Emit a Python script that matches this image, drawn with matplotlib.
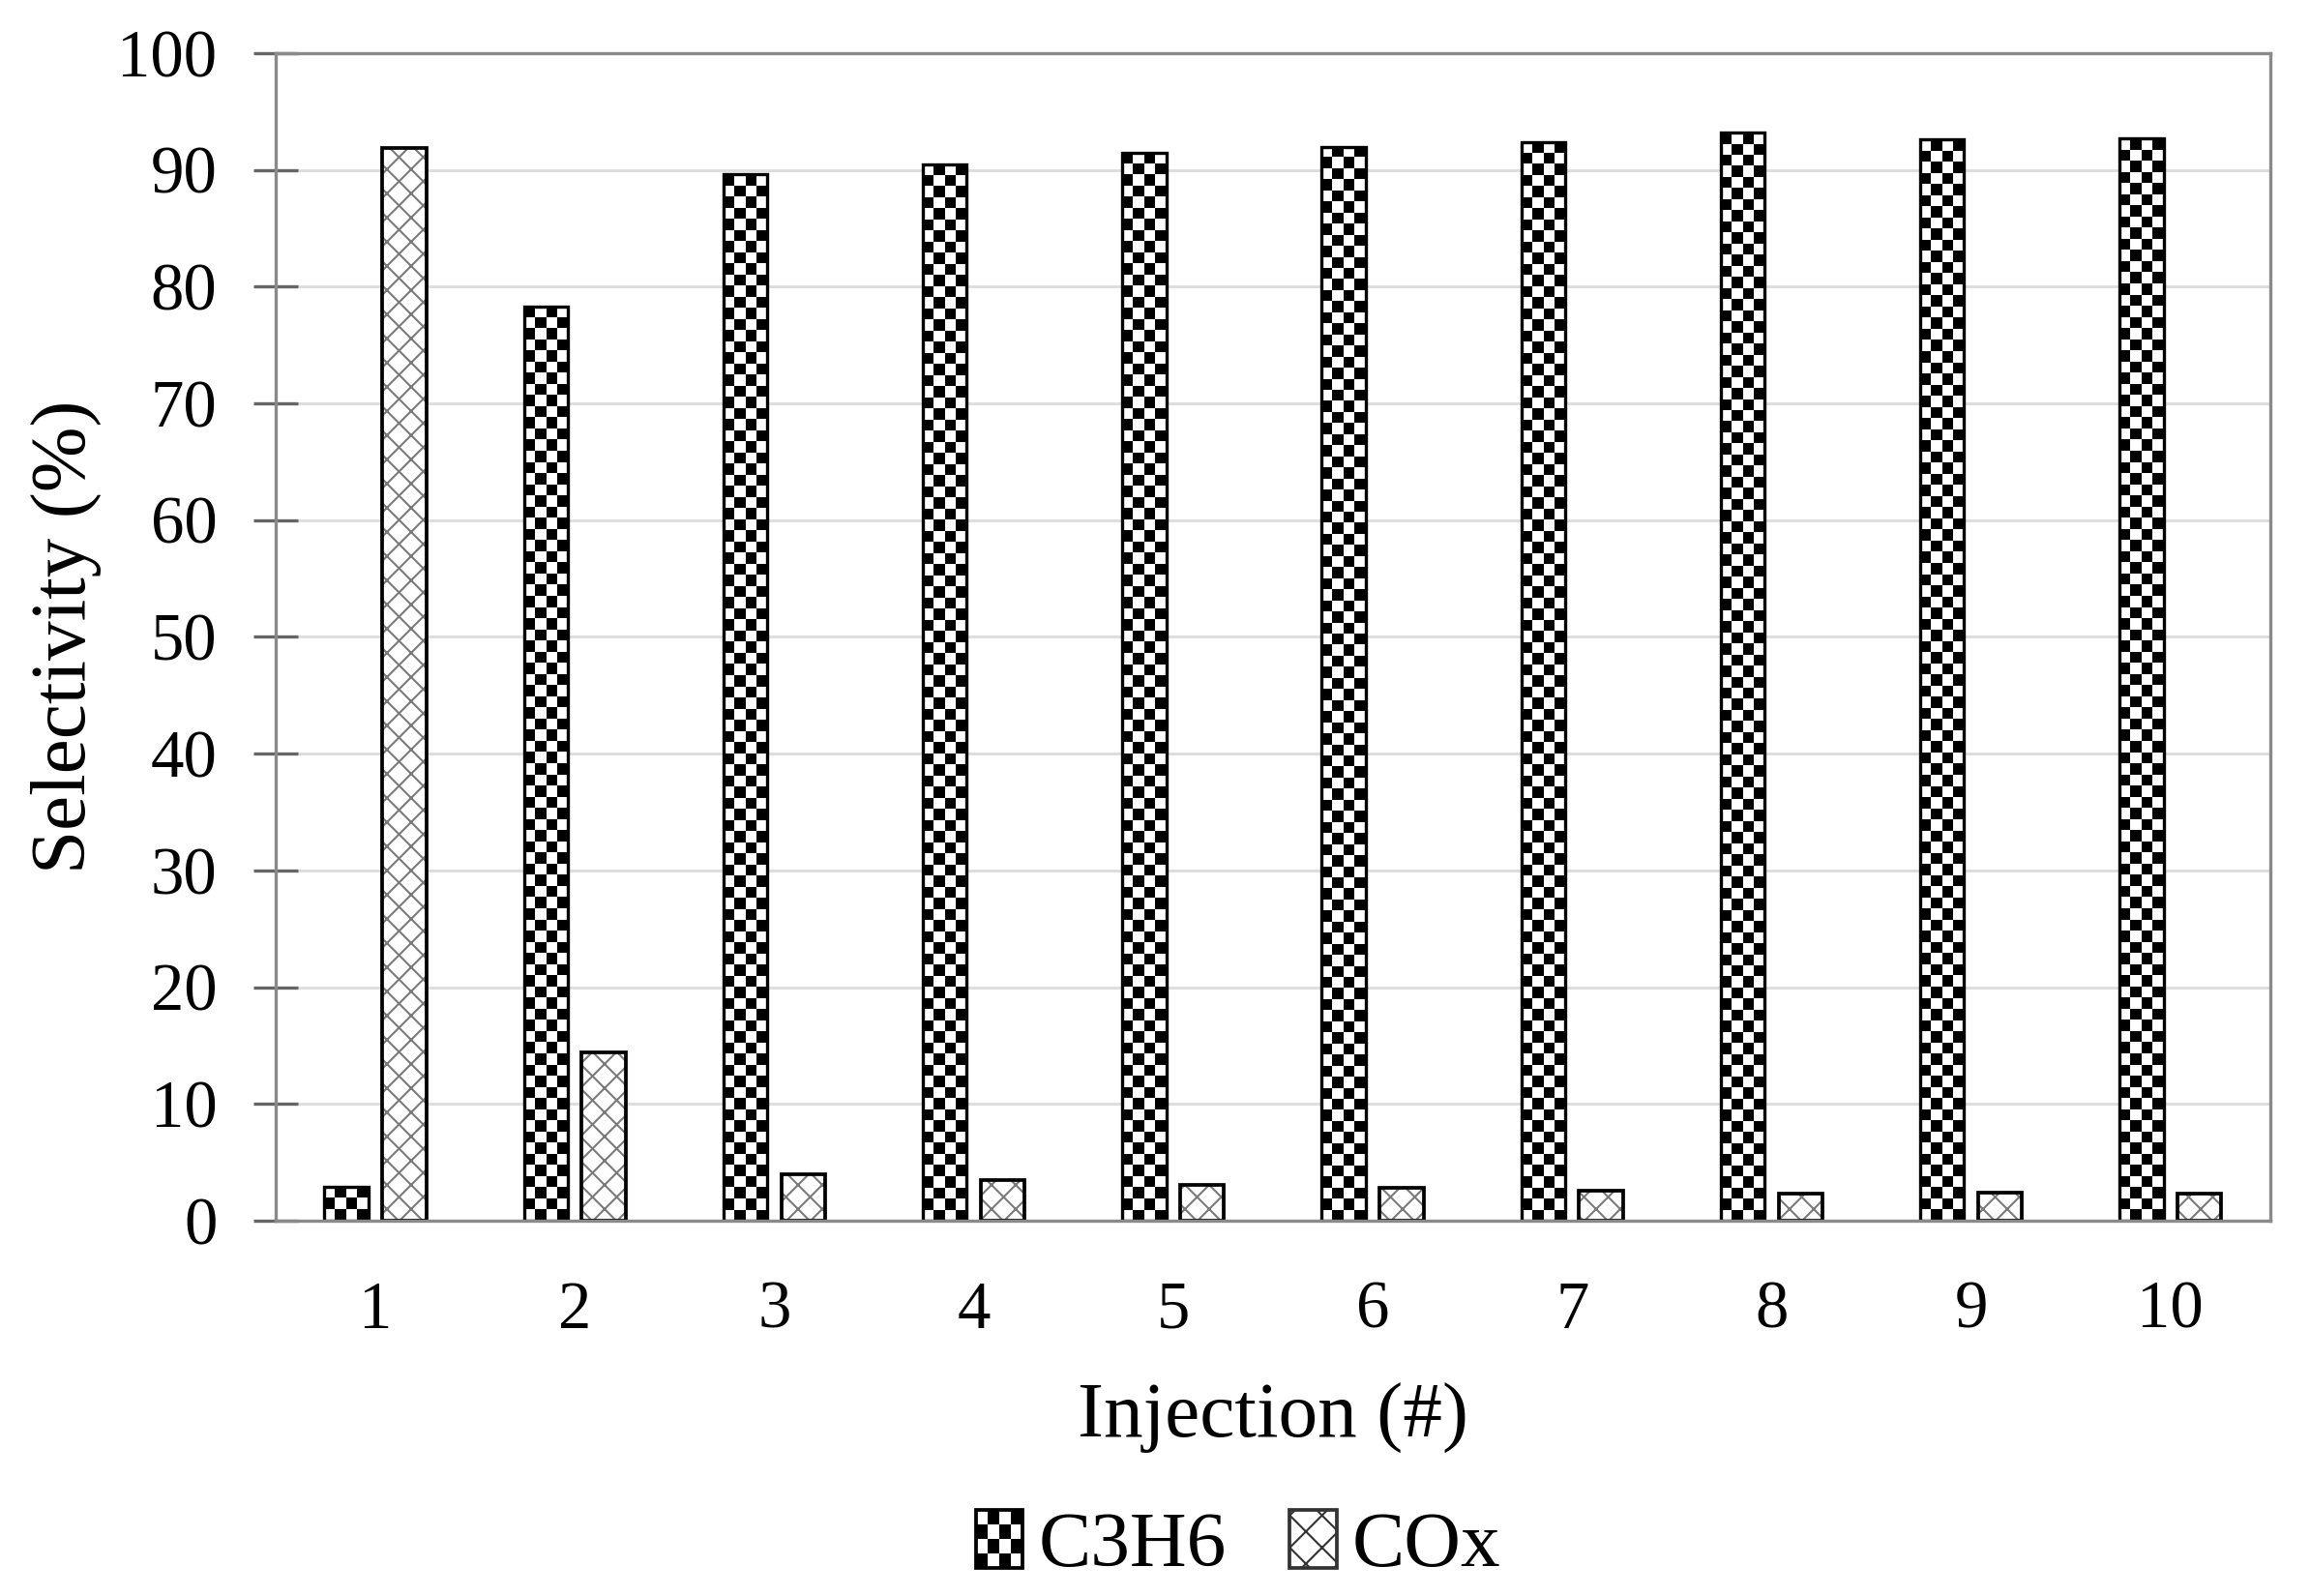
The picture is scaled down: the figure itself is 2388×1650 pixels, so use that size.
import numpy as np
import matplotlib
matplotlib.use("Agg")
import matplotlib.pyplot as plt
from matplotlib.patches import Rectangle, Patch
from matplotlib.legend_handler import HandlerBase

# data
injections = [1, 2, 3, 4, 5, 6, 7, 8, 9, 10]
c3h6 = [2.9, 78.3, 89.6, 90.5, 91.5, 92.0, 92.4, 93.2, 92.6, 92.7]
cox = [91.9, 14.4, 4.0, 3.5, 3.1, 2.8, 2.6, 2.3, 2.4, 2.3]

plt.rcParams['font.family'] = ['Liberation Serif', 'DejaVu Serif']
plt.rcParams['hatch.linewidth'] = 0.5

fig = plt.figure(figsize=(7.96, 5.5), dpi=300)
ax = fig.add_axes([0.1193, 0.2352, 0.8635, 0.7315])

x = np.array(injections, dtype=float)
w = 0.22
off = 0.145
cell_px = 11.5  # size of checker squares in pixels

# C3H6 bars: white with checker pattern clipped inside
bars1 = ax.bar(x - off, c3h6, w, facecolor='white', edgecolor='none', zorder=2)
px_per_y = 1207 / 100.0
for b in bars1:
    nrow = max(1, int(round(b.get_height() * px_per_y / cell_px)))
    ncol = 4
    chk = (np.indices((nrow, ncol)).sum(axis=0) % 2).astype(float)
    im = ax.imshow(chk, cmap='gray_r', vmin=0, vmax=1, interpolation='nearest',
                   aspect='auto', origin='lower', zorder=2.1,
                   extent=(b.get_x(), b.get_x() + b.get_width(), 0, b.get_height()))
    im.set_clip_path(b)
ax.bar(x - off, c3h6, w, facecolor='none', edgecolor='black', lw=0.8, zorder=2.2)

# COx bars: gray cross hatch, black edge
ax.bar(x + off, cox, w, facecolor='white', edgecolor='#7a7a7a', hatch='xxxx', lw=0, zorder=2)
ax.bar(x + off, cox, w, facecolor='none', edgecolor='black', lw=0.9, zorder=2.2)

ax.set_xlim(0.5, 10.5)
ax.set_ylim(0, 100)
ax.set_yticks(np.arange(0, 101, 10))
ax.set_xticks(x)
ax.set_xticklabels([str(i) for i in injections])

ax.set_axisbelow(True)
ax.yaxis.grid(True, color='#dddddd', lw=0.7)
for s in ax.spines.values():
    s.set_color('#8a8a8a')
    s.set_linewidth(0.8)

ax.tick_params(axis='y', direction='inout', length=11, width=0.8, color='#666666',
               labelsize=16.5, pad=9)
ax.tick_params(axis='x', length=0, labelsize=16.5, pad=15)

ax.set_ylabel('Selectivity (%)', fontsize=19.5, labelpad=4)
ax.set_xlabel('Injection (#)', fontsize=19.5, labelpad=10)


class CheckerHandler(HandlerBase):
    def create_artists(self, legend, orig_handle, xdescent, ydescent, width, height, fontsize, trans):
        arts = []
        n = 4
        cw = width / n
        ch = height / n
        for i in range(n):
            for j in range(n):
                if (i + j) % 2 == 0:
                    arts.append(Rectangle((-xdescent + i * cw, -ydescent + j * ch), cw, ch,
                                          facecolor='black', edgecolor='none', transform=trans))
        arts.append(Rectangle((-xdescent, -ydescent), width, height, facecolor='none',
                              edgecolor='black', lw=0.9, transform=trans))
        return arts


h1 = Patch(facecolor='white', edgecolor='black', label='C3H6')
h2 = Patch(facecolor='white', edgecolor='#333333', hatch='xxx', lw=0.9, label='COx')
fig.legend(handles=[h1, h2], labels=['C3H6', 'COx'], loc='center',
           bbox_to_anchor=(0.536, 0.031), ncol=2, frameon=False, fontsize=19.5,
           handlelength=0.6, handleheight=0.75, handletextpad=0.2, columnspacing=0.8,
           handler_map={h1: CheckerHandler()})

fig.savefig('out.png', dpi=300)
